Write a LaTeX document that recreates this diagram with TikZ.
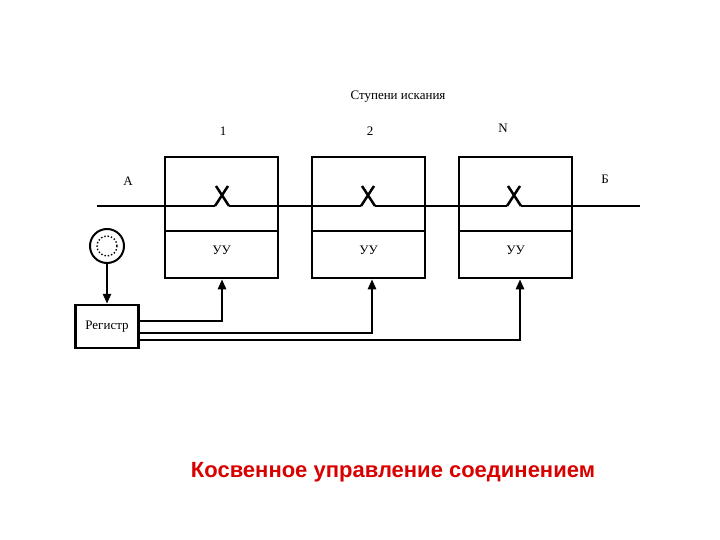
\documentclass[tikz,border=0pt]{standalone}
\usepackage{fontspec}
\setmainfont{Liberation Serif}
\newfontfamily\capfont{Liberation Sans}
\usetikzlibrary{arrows.meta}
\begin{document}
\begin{tikzpicture}[x=1pt,y=-1pt,
  box/.style={draw,line width=2.5pt,minimum width=113pt,minimum height=121pt,inner sep=0},
  lbl/.style={font=\fontsize{13}{15}\selectfont},
  wire/.style={line width=2.5pt},
  arr/.style={wire,-{Triangle[length=10pt,width=8pt]}}]
\useasboundingbox (0,0) rectangle (720,540);
\foreach \n/\x in {1/221.5,2/368.5,3/515.5}{
  \node[box] (b\n) at (\x,217.5) {};
  \draw[wire] (\x-56.5,231) -- (\x+56.5,231);
  \node[lbl] (u\n) at (\x,250) {УУ};
}
\node[lbl] (t) at (398,97) {Ступени искания};
\node[lbl] (n1) at (223,131) {1};
\node[lbl] (n2) at (370,131) {2};
\node[lbl] (n3) at (503,128) {N};
\node[lbl] (A) at (128,181) {А};
\node[lbl] (B) at (605,179) {Б};
\coordinate (L) at (97,206);
\coordinate (R) at (640,206);
\draw[wire] (L) -- (215,206) (229,206) -- (361,206) (375,206) -- (507,206) (521,206) -- (R);
\foreach \x in {222,368,514}{
  \draw[wire] (\x-7,206) -- (\x+6,186) (\x-6,186) -- (\x+7,206);
}
\node[draw,line width=2.5pt,minimum width=63pt,minimum height=43pt,inner sep=0,lbl] (reg) at (107,326.5) {Регистр};
\node[draw,circle,line width=2pt,minimum size=34pt,inner sep=0] (c) at (107,246) {};
\draw[dotted,line width=1.4pt] (c) circle (10pt);
\draw[arr] (c.south) -- (reg.north);
\draw[arr] (reg.east |- 0,321) -| ([xshift=0.5pt]b1.south);
\draw[arr] (reg.east |- 0,333) -| ([xshift=3.5pt]b2.south);
\draw[arr] (reg.east |- 0,340) -| ([xshift=4.5pt]b3.south);
\node[font=\capfont\bfseries\fontsize{22}{26}\selectfont,text=red!85!black] (cap) at (393,472) {Косвенное управление соединением};
\end{tikzpicture}
\end{document}
